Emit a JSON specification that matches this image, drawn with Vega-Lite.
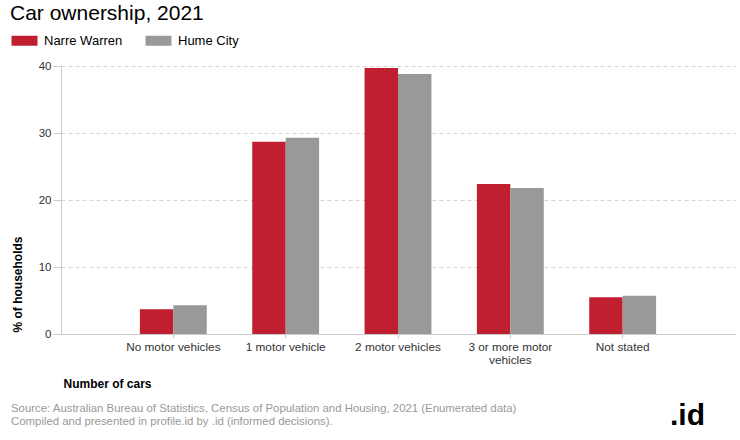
{
  "$schema": "https://vega.github.io/schema/vega-lite/v6.json",
  "padding": {"left": 10, "top": 3, "right": 5, "bottom": 0},
  "background": "white",
  "title": {"text": ".id", "orient": "bottom", "anchor": "end", "fontSize": 30, "fontWeight": "bold", "color": "#000", "offset": -26, "dx": -30},
  "config": {
    "font": "Liberation Sans",
    "view": {"stroke": null}
  },
  "datasets": {
    "cars": [
      {"category": "No motor vehicles", "area": "Narre Warren", "pct": 3.7},
      {"category": "No motor vehicles", "area": "Hume City", "pct": 4.3},
      {"category": "1 motor vehicle", "area": "Narre Warren", "pct": 28.7},
      {"category": "1 motor vehicle", "area": "Hume City", "pct": 29.3},
      {"category": "2 motor vehicles", "area": "Narre Warren", "pct": 39.7},
      {"category": "2 motor vehicles", "area": "Hume City", "pct": 38.8},
      {"category": "3 or more motor vehicles", "area": "Narre Warren", "pct": 22.4},
      {"category": "3 or more motor vehicles", "area": "Hume City", "pct": 21.8},
      {"category": "Not stated", "area": "Narre Warren", "pct": 5.5},
      {"category": "Not stated", "area": "Hume City", "pct": 5.7}
    ]
  },
  "vconcat": [
    {
      "width": 674,
      "height": 268,
      "title": {
        "text": ["Source: Australian Bureau of Statistics, Census of Population and Housing, 2021 (Enumerated data)", "Compiled and presented in profile.id by .id (informed decisions)."],
        "orient": "bottom", "anchor": "start", "fontSize": 11.4, "fontWeight": "normal", "color": "#999", "lineHeight": 12.5, "offset": 14
      },
      "data": {"name": "cars"},
      "mark": {"type": "bar"},
      "encoding": {
        "x": {
          "field": "category", "type": "nominal", "sort": null,
          "scale": {"paddingInner": 0, "paddingOuter": 0.5},
          "axis": {
            "title": "Number of cars", "titleFontSize": 12, "titleFontWeight": "bold", "titleColor": "#000",
            "titleAnchor": "start", "titleAlign": "left", "titleBaseline": "middle", "titleX": 2, "titleY": 49,
            "labelAngle": 0, "labelFontSize": 11.8, "labelColor": "#333", "labelPadding": 3, "labelLineHeight": 13,
            "labelExpr": "datum.value == '3 or more motor vehicles' ? ['3 or more motor', 'vehicles'] : datum.value",
            "labelLimit": 0,
            "domainColor": "#ccc", "tickColor": "#ccc", "tickSize": 4, "grid": false
          }
        },
        "xOffset": {
          "field": "area", "type": "nominal", "sort": ["Narre Warren", "Hume City"],
          "scale": {"paddingInner": 0, "paddingOuter": 0.68}
        },
        "y": {
          "field": "pct", "type": "quantitative",
          "scale": {"domain": [0, 40], "nice": false},
          "axis": {
            "title": "% of households", "titleFontSize": 12, "titleFontWeight": "bold", "titleColor": "#000",
            "titleAngle": -90, "titleX": -44, "titleY": 266, "titleAlign": "left", "titleBaseline": "middle",
            "values": [0, 10, 20, 30, 40], "labelFontSize": 11.5, "labelColor": "#333", "labelPadding": 2,
            "tickSize": 8, "tickColor": "#ccc", "domainColor": "#ccc",
            "gridColor": "#d6d6d6", "gridDash": [4, 3]
          }
        },
        "color": {
          "field": "area", "type": "nominal",
          "scale": {"domain": ["Narre Warren", "Hume City"], "range": ["#c01f30", "#999999"]},
          "legend": {
            "orient": "none", "legendX": -51, "legendY": -63, "direction": "horizontal",
            "title": "Car ownership, 2021", "titleOrient": "top", "titleFontSize": 21, "titleFontWeight": "normal",
            "titleColor": "#000", "titlePadding": 10, "titleLimit": 0,
            "labelFontSize": 13, "labelColor": "#000", "labelOffset": 21, "columnPadding": 21,
            "symbolType": "M-1,-1H4.2V1H-1Z", "symbolSize": 100, "symbolStrokeWidth": 0, "symbolOpacity": 1
          }
        }
      }
    }
  ]
}
